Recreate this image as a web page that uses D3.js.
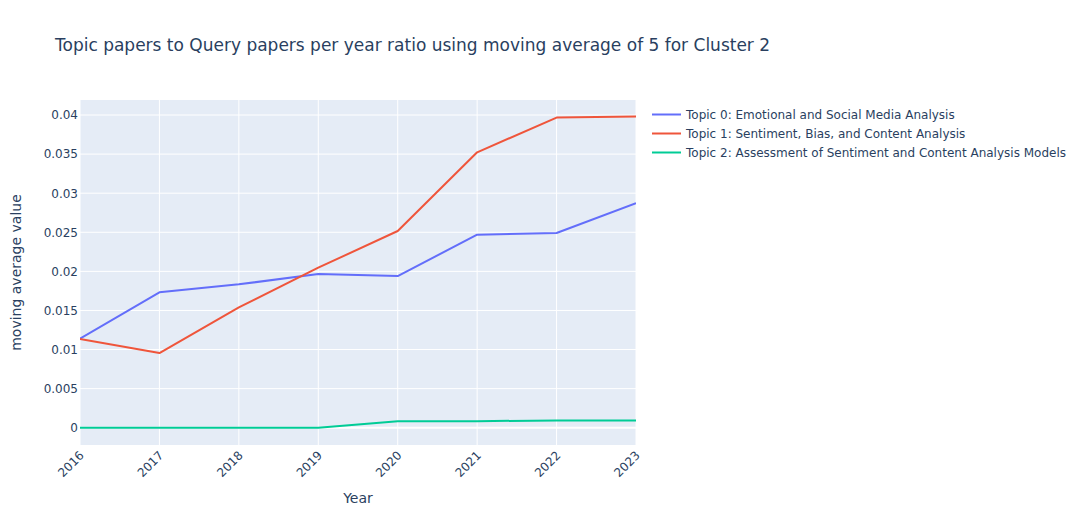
<!DOCTYPE html>
<html><head><meta charset="utf-8">
<script src="https://cdn.jsdelivr.net/npm/d3@7"></script>
<style>body{margin:0;background:#fff;} text{font-family:"DejaVu Sans",Verdana,sans-serif;fill:#2a3f5f;}</style>
</head><body>
<svg id="c" width="1089" height="525"></svg>
<script>
const years = [2016, 2017, 2018, 2019, 2020, 2021, 2022, 2023];
const seriesNames = [
  "Topic 0: Emotional and Social Media Analysis",
  "Topic 1: Sentiment, Bias, and Content Analysis",
  "Topic 2: Assessment of Sentiment and Content Analysis Models"
];
const topic0 = [0.01138, 0.01732, 0.01834, 0.01966, 0.0194, 0.02469, 0.0249, 0.02871];
const topic1 = [0.01135, 0.00955, 0.0154, 0.02047, 0.02516, 0.03523, 0.03967, 0.0398];
const topic2 = [0, 0, 0, 0, 0.00084, 0.00084, 0.00093, 0.00093];
const yTicks = [0, 0.005, 0.01, 0.015, 0.02, 0.025, 0.03, 0.035, 0.04];
const colors = ["#636efa", "#EF553B", "#00cc96"];
const title = "Topic papers to Query papers per year ratio using moving average of 5 for Cluster 2";

const FONT = '"DejaVu Sans",Verdana,sans-serif';
const svg = d3.select("#c");
const L = 80, R = 636, T = 100, B = 445;
const x = d3.scaleLinear().domain([2016, 2023]).range([L, R]);
const y = d3.scaleLinear().domain([-0.00221, 0.04192]).range([B, T]);

svg.append("rect").attr("x", L).attr("y", T).attr("width", R - L).attr("height", B - T).attr("fill", "#E5ECF6");

// grid
const g = svg.append("g");
g.selectAll(".vg").data(years).enter().append("line")
  .attr("x1", d => x(d)).attr("x2", d => x(d)).attr("y1", T).attr("y2", B)
  .attr("stroke", "#fff").attr("stroke-width", 1);
g.selectAll(".hg").data(yTicks).enter().append("line")
  .attr("x1", L).attr("x2", R).attr("y1", d => y(d)).attr("y2", d => y(d))
  .attr("stroke", "#fff").attr("stroke-width", d => d === 0 ? 2 : 1);

// y axis labels
const yAxis = d3.axisLeft(y).tickValues(yTicks).tickSize(0).tickPadding(2)
  .tickFormat(d => d === 0 ? "0" : String(+d.toFixed(3)));
const ya = svg.append("g").attr("transform", `translate(${L},0)`).call(yAxis);
ya.select(".domain").remove();
ya.selectAll("text").style("font-size", "12px").attr("fill", "#2a3f5f").style("font-family", FONT);

// x axis labels
const xAxis = d3.axisBottom(x).tickValues(years).tickSize(0).tickFormat(d3.format("d"));
const xa = svg.append("g").attr("transform", `translate(0,${B})`).call(xAxis);
xa.select(".domain").remove();
xa.selectAll("text").style("font-size", "12px").attr("fill", "#2a3f5f").style("font-family", FONT)
  .attr("text-anchor", "end").attr("dy", null).attr("y", 0)
  .attr("transform", "translate(-2,5) rotate(-45)").attr("dominant-baseline", "hanging");

// lines
const data = [topic0, topic1, topic2];
const line = d3.line().x((d, i) => x(years[i])).y(d => y(d));
svg.append("defs").append("clipPath").attr("id", "clp").append("rect")
  .attr("x", L).attr("y", T).attr("width", R - L).attr("height", B - T);
const lg = svg.append("g").attr("clip-path", "url(#clp)");
data.forEach((s, k) => {
  lg.append("path").datum(s).attr("d", line).attr("fill", "none")
    .attr("stroke", colors[k]).attr("stroke-width", 2).attr("stroke-linejoin", "round");
});

// titles
svg.append("text").attr("x", 55).attr("y", 51).style("font-size", "17px").text(title);
svg.append("text").attr("x", (L + R) / 2).attr("y", 503).attr("text-anchor", "middle").style("font-size", "14px").text("Year");
svg.append("text").attr("transform", `translate(21,${(T + B) / 2}) rotate(-90)`).attr("text-anchor", "middle").style("font-size", "14px").text("moving average value");

// legend
const leg = svg.append("g");
seriesNames.forEach((n, k) => {
  const yy = 114.5 + k * 19;
  leg.append("line").attr("x1", 652).attr("x2", 681).attr("y1", yy).attr("y2", yy)
    .attr("stroke", colors[k]).attr("stroke-width", 2);
  leg.append("text").attr("x", 686).attr("y", yy + 4.5).style("font-size", "12px").text(n);
});
</script>
</body></html>
